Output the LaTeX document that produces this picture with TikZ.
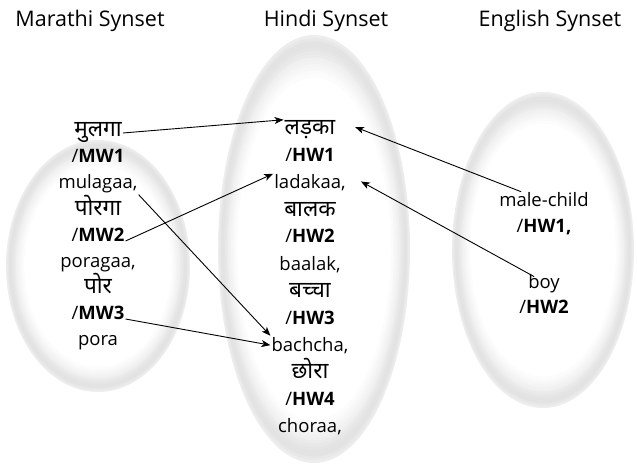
\documentclass[tikz,border=0pt]{standalone}
\usepackage{fontspec}
\setmainfont{Open Sans}
\newfontfamily\deva[Script=Devanagari,Scale=1.22]{Noto Sans}
\usetikzlibrary{arrows.meta}

\tikzset{
  word/.style={anchor=base,inner sep=1pt,font=\fontsize{18.5}{21}\selectfont},
  title/.style={anchor=base,font=\fontsize{21.5}{24}\selectfont},
  link/.style={-{Stealth[length=9pt,width=7pt,inset=2.5pt]},line width=0.9pt},
}

\begin{document}
\begin{tikzpicture}[x=1pt,y=-1pt]
        \useasboundingbox(0,0)rectangle(637,465);

        % synset blobs: grey rim fading to white inside
        \foreach \cx/\cy/\rx/\ry in {98/266/92/126,314/249/96/214,543/250/91/158}
          \foreach \s/\c in {1.00/7,0.985/9,0.97/11,0.955/11,0.94/10,0.925/9,0.91/8,
                             0.895/6,0.88/5,0.865/4,0.85/3,0.835/2,0.82/1,0.80/0}
            \fill[black!\c](\cx,\cy)ellipse[x radius=\s*\rx,y radius=\s*\ry];

        \node[title](mar)at(90,27){Marathi Synset};
        \node[title](hin)at(326,27){Hindi Synset};
        \node[title](eng)at(550,27){English Synset};

        % Marathi words
        \node[word](mul)at(98,137){\deva मुलगा};
        \node[word](mw1)at(98,163){/\textbf{MW1}};
        \node[word](mulagaa)at(98,189){mulagaa,};
        \node[word](por)at(98,215){\deva पोरगा};
        \node[word](mw2)at(98,241){/\textbf{MW2}};
        \node[word](poragaa)at(98,267){poragaa,};
        \node[word](pr)at(98,293){\deva पोर};
        \node[word](mw3)at(98,319){/\textbf{MW3}};
        \node[word](pora)at(98,345){pora};

        % Hindi words
        \node[word](ladka)at(310,135){\deva लड़का};
        \node[word](hw1)at(310,162){/\textbf{HW1}};
        \node[word](ladakaa)at(310,189){ladakaa,};
        \node[word](bal)at(310,216){\deva बालक};
        \node[word](hw2)at(310,243){/\textbf{HW2}};
        \node[word](baalak)at(310,270){baalak,};
        \node[word](bach)at(310,297){\deva बच्चा};
        \node[word](hw3)at(310,324){/\textbf{HW3}};
        \node[word](bachcha)at(310,351){bachcha,};
        \node[word](chh)at(310,378){\deva छोरा};
        \node[word](hw4)at(310,405){/\textbf{HW4}};
        \node[word](choraa)at(310,432){choraa,};

        % English words
        \node[word](malechild)at(544,207){male-child};
        \node[word](ehw1)at(544,233){/\textbf{HW1,}};
        \node[word](boy)at(544,288){boy};
        \node[word](ehw2)at(544,313){/\textbf{HW2}};

        \draw[link](mul.east)--(ladka.north west);
        \draw[link](mw2.base east)--(ladakaa.north west);
        \draw[link](mulagaa.south east)--(bachcha.north west);
        \draw[link](mw3.base east)--(bachcha.west);
        \draw[link,shorten >=20pt](malechild.160)--(ladka.north east);
        \draw[link,shorten <=-8pt,shorten >=16pt](boy.north west)--(ladakaa.north east);
\end{tikzpicture}
\end{document}
